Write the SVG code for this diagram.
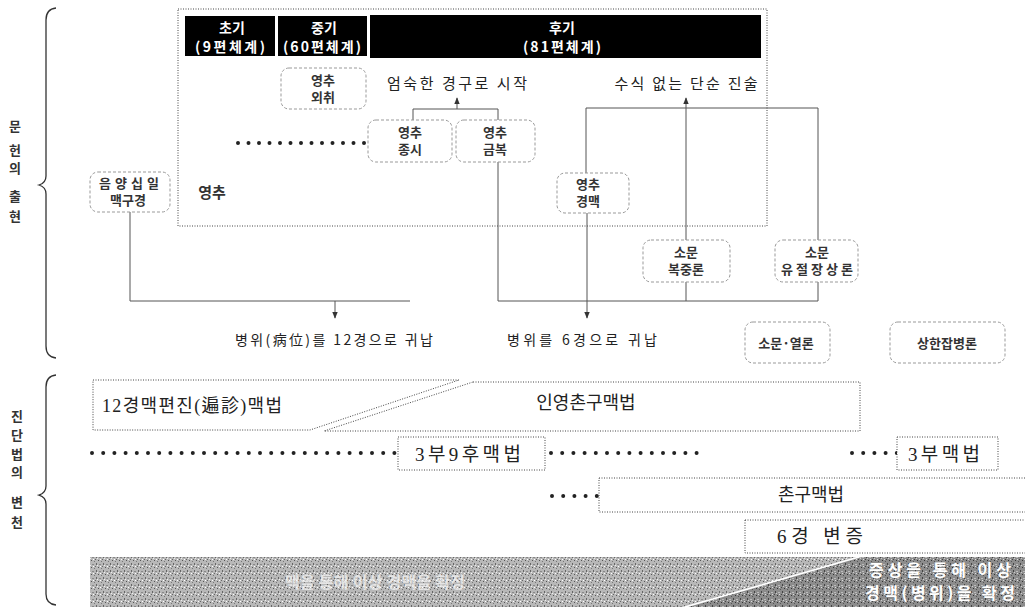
<svg xmlns="http://www.w3.org/2000/svg" width="1025" height="607" viewBox="0 0 1025 607">
<defs>
<style>
.sans{font-family:"Noto Sans CJK KR","Noto Sans",sans-serif;fill:#222}
.ser{font-family:"Liberation Serif","Noto Sans CJK KR",serif;fill:#222;font-size:18px}
.hdr{font-family:"Noto Sans CJK KR","Noto Sans",sans-serif;fill:#fff;font-weight:bold;font-size:14px}
.side{font-family:"Noto Sans CJK KR","Noto Sans",sans-serif;fill:#333;font-weight:bold;font-size:13px}
.node{fill:#fff;stroke:#999;stroke-width:1;stroke-dasharray:3 2}
.ntx{font-family:"Noto Sans CJK KR","Noto Sans",sans-serif;fill:#333;font-size:13px;font-weight:bold}
.conn{fill:none;stroke:#555;stroke-width:1}
.dotbox{fill:#fff;stroke:#444;stroke-width:1;stroke-dasharray:1 1.5}
.dots{stroke:#222;stroke-width:4;stroke-linecap:round;stroke-dasharray:0 10.5;fill:none}
.band{font-family:"Noto Sans CJK KR","Noto Sans",sans-serif;fill:#fff;font-weight:bold;font-size:16px}
</style>
<marker id="ah" viewBox="0 0 10 10" refX="9" refY="5" markerWidth="7" markerHeight="7" orient="auto-start-reverse">
<path d="M0,1 L10,5 L0,9 Z" fill="#333"/>
</marker>
<pattern id="noiseL" width="7" height="7" patternUnits="userSpaceOnUse">
<rect width="7" height="7" fill="#b8b8b8"/>
<rect x="0" y="0" width="1" height="1" fill="#555"/>
<rect x="3" y="1" width="1" height="1" fill="#777"/>
<rect x="5" y="3" width="1" height="2" fill="#666"/>
<rect x="1" y="4" width="2" height="1" fill="#888"/>
<rect x="2" y="6" width="1" height="1" fill="#fff"/>
<rect x="6" y="5" width="1" height="1" fill="#eee"/>
<rect x="4" y="6" width="1" height="1" fill="#666"/>
</pattern>
<pattern id="noiseR" width="7" height="7" patternUnits="userSpaceOnUse">
<rect width="7" height="7" fill="#8c8c8c"/>
<rect x="0" y="0" width="1" height="1" fill="#333"/>
<rect x="3" y="1" width="1" height="1" fill="#555"/>
<rect x="5" y="3" width="1" height="2" fill="#444"/>
<rect x="1" y="4" width="2" height="1" fill="#bbb"/>
<rect x="2" y="6" width="1" height="1" fill="#ddd"/>
<rect x="6" y="5" width="1" height="1" fill="#ccc"/>
<rect x="4" y="6" width="1" height="1" fill="#444"/>
</pattern>
</defs>
<rect width="1025" height="607" fill="#fff"/>

<!-- Side braces and labels -->
<g id="brace-top">
<path d="M56,8 Q46,9 46,20 L46,176 Q46,183 39,185 Q46,187 46,194 L46,346 Q46,357 56,358" fill="none" stroke="#333" stroke-width="1.3"/>
<text class="side" x="15" y="131" text-anchor="middle">문</text>
<text class="side" x="15" y="155" text-anchor="middle">헌</text>
<text class="side" x="15" y="173" text-anchor="middle">의</text>
<text class="side" x="15" y="201" text-anchor="middle">출</text>
<text class="side" x="15" y="221" text-anchor="middle">현</text>
</g>
<g id="brace-bottom">
<path d="M56,375 Q46,376 46,387 L46,486 Q46,493 39,495 Q46,497 46,504 L46,594 Q46,604 56,605" fill="none" stroke="#333" stroke-width="1.3"/>
<text class="side" x="17" y="421" text-anchor="middle">진</text>
<text class="side" x="17" y="440" text-anchor="middle">단</text>
<text class="side" x="17" y="459" text-anchor="middle">법</text>
<text class="side" x="17" y="477" text-anchor="middle">의</text>
<text class="side" x="17" y="507" text-anchor="middle">변</text>
<text class="side" x="17" y="527" text-anchor="middle">천</text>
</g>

<!-- Big frame -->
<g id="frame">
<rect class="dotbox" x="178" y="9" width="589" height="217" fill="none"/>
</g>

<!-- Headers -->
<g id="hdr-early">
<rect x="185" y="16" width="90" height="40" fill="#000"/>
<text class="hdr" x="232" y="33" text-anchor="middle">초기</text>
<text class="hdr" x="230" y="52" text-anchor="middle" textLength="70" lengthAdjust="spacing">(9편체계)</text>
</g>
<g id="hdr-mid">
<rect x="278" y="16" width="89" height="40" fill="#000"/>
<text class="hdr" x="324" y="33" text-anchor="middle">중기</text>
<text class="hdr" x="322" y="52" text-anchor="middle" textLength="78" lengthAdjust="spacing">(60편체계)</text>
</g>
<g id="hdr-late">
<rect x="370" y="15" width="391" height="43" fill="#000"/>
<text class="hdr" x="562" y="33" text-anchor="middle">후기</text>
<text class="hdr" x="562" y="52" text-anchor="middle" textLength="78" lengthAdjust="spacing">(81편체계)</text>
</g>

<!-- Connectors -->
<g id="connectors">
<polyline class="conn" points="413,120 413,109 498,109 498,301"/>
<line class="conn" x1="457" y1="109" x2="457" y2="98" marker-end="url(#ah)"/>
<polyline class="conn" points="586,173 586,108 818,108 818,240"/>
<line class="conn" x1="686" y1="240" x2="686" y2="98" marker-end="url(#ah)"/>
<line class="conn" x1="587" y1="213" x2="587" y2="301"/>
<line class="conn" x1="498" y1="301" x2="818" y2="301"/>
<line class="conn" x1="686" y1="282" x2="686" y2="301"/>
<line class="conn" x1="818" y1="282" x2="818" y2="301"/>
<line class="conn" x1="587" y1="301" x2="587" y2="318" marker-end="url(#ah)"/>
<polyline class="conn" points="130,212 130,301 410,301"/>
<line class="conn" x1="335" y1="301" x2="335" y2="318" marker-end="url(#ah)"/>
<line class="dots" x1="238" y1="143" x2="366" y2="143"/>
</g>

<!-- Upper nodes -->
<g id="n-oechwi">
<rect class="node" x="281" y="68" width="85" height="41" rx="8"/>
<text class="ntx" x="323" y="85" text-anchor="middle">영추</text>
<text class="ntx" x="323" y="102" text-anchor="middle">외취</text>
</g>
<g id="n-jongsi">
<rect class="node" x="368" y="120" width="84" height="42" rx="8"/>
<text class="ntx" x="410" y="137" text-anchor="middle">영추</text>
<text class="ntx" x="410" y="154" text-anchor="middle">종시</text>
</g>
<g id="n-geumbok">
<rect class="node" x="456" y="120" width="79" height="42" rx="8"/>
<text class="ntx" x="495" y="137" text-anchor="middle">영추</text>
<text class="ntx" x="495" y="154" text-anchor="middle">금복</text>
</g>
<g id="n-gyeongmaek">
<rect class="node" x="557" y="173" width="72" height="40" rx="8"/>
<text class="ntx" x="588" y="189" text-anchor="middle">영추</text>
<text class="ntx" x="588" y="206" text-anchor="middle">경맥</text>
</g>
<g id="n-eumyang">
<rect class="node" x="90" y="172" width="80" height="40" rx="8"/>
<text class="ntx" x="129" y="188" text-anchor="middle" textLength="60" lengthAdjust="spacing">음양십일</text>
<text class="ntx" x="128" y="205" text-anchor="middle">맥구경</text>
</g>
<g id="l-yeongchu">
<text class="ntx" x="212" y="198" text-anchor="middle" style="font-size:15px">영추</text>
</g>
<g id="l-eomsuk">
<text class="sans" x="457" y="89" text-anchor="middle" style="font-size:15px" textLength="140" lengthAdjust="spacing">엄숙한 경구로 시작</text>
</g>
<g id="l-susik">
<text class="sans" x="686" y="89" text-anchor="middle" style="font-size:15px" textLength="143" lengthAdjust="spacing">수식 없는 단순 진술</text>
</g>
<g id="n-bokjung">
<rect class="node" x="643" y="240" width="87" height="42" rx="8"/>
<text class="ntx" x="686" y="257" text-anchor="middle">소문</text>
<text class="ntx" x="686" y="274" text-anchor="middle">복중론</text>
</g>
<g id="n-yujeol">
<rect class="node" x="775" y="240" width="83" height="42" rx="8"/>
<text class="ntx" x="817" y="257" text-anchor="middle">소문</text>
<text class="ntx" x="817" y="274" text-anchor="middle" textLength="72" lengthAdjust="spacing">유절장상론</text>
</g>
<g id="l-12gyeong">
<text class="sans" x="334" y="345" text-anchor="middle" style="font-size:14px" textLength="198" lengthAdjust="spacing">병위(病位)를 12경으로 귀납</text>
</g>
<g id="l-6gyeong">
<text class="sans" x="582" y="345" text-anchor="middle" style="font-size:14px" textLength="150" lengthAdjust="spacing">병위를 6경으로 귀납</text>
</g>
<g id="n-yeollon">
<rect class="node" x="745" y="322" width="85" height="41" rx="8"/>
<text class="ntx" x="786" y="348" text-anchor="middle">소문·열론</text>
</g>
<g id="n-sanghan">
<rect class="node" x="890" y="322" width="115" height="41" rx="8"/>
<text class="ntx" x="947" y="348" text-anchor="middle">상한잡병론</text>
</g>

<!-- Lower section -->
<g id="m-12gyeong">
<path class="dotbox" d="M93,380 L459,380 L310,430 L93,430 Z"/>
<text class="ser" x="102" y="412" textLength="180" lengthAdjust="spacing">12경맥편진(遍診)맥법</text>
</g>
<g id="m-inyeong">
<path class="dotbox" d="M473,382 L860,382 L860,431 L324,431 Z"/>
<text class="ser" x="586" y="409" text-anchor="middle">인영촌구맥법</text>
</g>
<g id="m-dots">
<line class="dots" style="stroke-dasharray:0 11.2" x1="92" y1="453" x2="395" y2="453"/>
<line class="dots" style="stroke-dasharray:0 11.2" x1="551" y1="453" x2="698" y2="453"/>
<line class="dots" style="stroke-dasharray:0 11.2" x1="852" y1="453" x2="897" y2="453"/>
<line class="dots" style="stroke-dasharray:0 11.2" x1="552" y1="496" x2="598" y2="496"/>
</g>
<g id="m-3bu9hu">
<rect class="dotbox" x="398" y="437" width="147" height="33"/>
<text class="ser" x="468" y="461" text-anchor="middle" style="font-size:19px" textLength="106" lengthAdjust="spacing">3부9후맥법</text>
</g>
<g id="m-3bu">
<rect class="dotbox" x="897" y="437" width="101" height="33"/>
<text class="ser" x="944" y="461" text-anchor="middle" style="font-size:19px" textLength="72" lengthAdjust="spacing">3부맥법</text>
</g>
<g id="m-chongu">
<rect class="dotbox" x="599" y="478" width="440" height="34"/>
<text class="ser" x="811" y="501" text-anchor="middle">촌구맥법</text>
</g>
<g id="m-6gyeong">
<rect class="dotbox" x="745" y="520" width="300" height="33"/>
<text class="ser" x="820" y="543" text-anchor="middle" style="font-size:19px" textLength="86" lengthAdjust="spacing">6경 변증</text>
</g>

<!-- Bottom band -->
<g id="band">
<polygon points="90,557 856,557 682,607 90,607" fill="url(#noiseL)"/>
<polygon points="862,557 1025,557 1025,607 688,607" fill="url(#noiseR)"/>
<text class="band" x="375" y="588" text-anchor="middle" textLength="180" lengthAdjust="spacing" style="fill:#f4f4f4;fill-opacity:0.75">맥을 통해 이상 경맥을 확정</text>
<text class="band" x="940" y="576" text-anchor="middle" textLength="142" lengthAdjust="spacing">증상을 통해 이상</text>
<text class="band" x="940" y="599" text-anchor="middle" textLength="150" lengthAdjust="spacing">경맥(병위)을 확정</text>
</g>
</svg>
